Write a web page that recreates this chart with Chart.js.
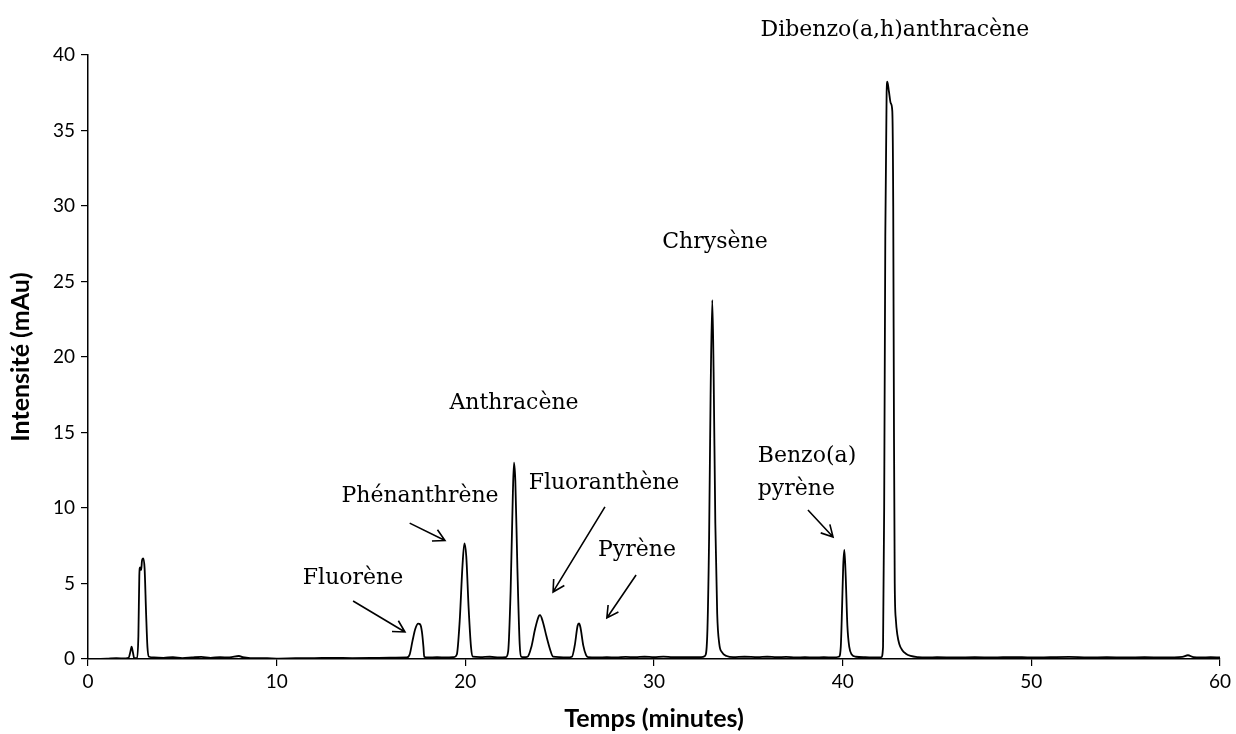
<!DOCTYPE html>
<html lang="fr">
<head>
<meta charset="utf-8">
<title>Chromatogramme HAP</title>
<script src="https://cdn.jsdelivr.net/npm/chart.js@4.4.1/dist/chart.umd.min.js"></script>
<style>
  html, body { margin: 0; padding: 0; background: #fff; }
  #wrap { width: 1236px; height: 734px; position: relative; }
</style>
</head>
<body>
<div id="wrap"><canvas id="c" width="1236" height="734"></canvas></div>
<script>
// Retention time (minutes) and detector signal (mAu) of the chromatogram
const temps = [
  0.5, 1.0, 1.5, 2.0, 2.15, 2.25, 2.31, 2.38, 2.45, 2.6,
  2.67, 2.72, 2.76, 2.82, 2.86, 2.93, 3.0, 3.08, 3.15, 3.23,
  3.5, 4.0, 4.5, 5.0, 5.5, 6.0, 6.5, 7.0, 7.5, 8.0,
  8.2, 8.6, 9.5, 10.0, 11.0, 12.0, 13.0, 14.0, 15.0, 16.0,
  16.9, 17.05, 17.2, 17.35, 17.5, 17.6, 17.7, 17.78, 17.82, 18.0,
  18.5, 19.0, 19.4, 19.55, 19.7, 19.85, 19.95, 20.05, 20.17, 20.3,
  20.4, 20.8, 21.3, 21.8, 22.15, 22.27, 22.4, 22.52, 22.58, 22.65,
  22.76, 22.88, 22.96, 23.1, 23.3, 23.5, 23.7, 23.9, 23.96, 24.1,
  24.3, 24.5, 24.65, 25.0, 25.4, 25.65, 25.8, 25.95, 26.02, 26.1,
  26.25, 26.4, 26.5, 27.0, 27.5, 28.0, 28.5, 29.0, 29.5, 30.0,
  30.5, 31.0, 31.5, 32.0, 32.5, 32.7, 32.82, 32.92, 33.0, 33.09,
  33.16, 33.25, 33.35, 33.46, 33.6, 33.85, 34.2, 34.8, 35.5, 36.0,
  36.5, 37.0, 37.5, 38.0, 38.5, 39.0, 39.5, 39.8, 39.9, 39.97,
  40.03, 40.09, 40.16, 40.25, 40.35, 40.48, 40.7, 41.2, 41.7, 42.05,
  42.14, 42.2, 42.26, 42.33, 42.37, 42.45, 42.55, 42.63, 42.68, 42.72,
  42.76, 42.82, 42.9, 43.0, 43.15, 43.35, 43.6, 44.0, 44.5, 45.0,
  46.0, 47.0, 48.0, 49.0, 50.0, 51.0, 52.0, 53.0, 54.0, 55.0,
  56.0, 57.0, 58.0, 58.3, 58.6, 59.0, 59.5, 60.0
];
const intensite = [
  0.0, 0.02, 0.05, 0.04, 0.08, 0.5, 0.81, 0.45, 0.05, 0.05,
  1.5, 5.5, 6.07, 5.9, 6.5, 6.67, 6.0, 3.0, 0.8, 0.15,
  0.1, 0.08, 0.12, 0.06, 0.1, 0.14, 0.08, 0.12, 0.1, 0.2,
  0.12, 0.06, 0.05, 0.03, 0.05, 0.06, 0.08, 0.06, 0.07, 0.09,
  0.1, 0.3, 1.2, 2.0, 2.34, 2.3, 1.8, 0.8, 0.15, 0.1,
  0.12, 0.1, 0.12, 0.3, 2.5, 6.2, 7.66, 6.8, 3.5, 0.8,
  0.15, 0.12, 0.15, 0.1, 0.12, 0.5, 4.5, 11.0, 13.0, 11.8,
  6.0, 1.0, 0.15, 0.12, 0.15, 0.8, 2.0, 2.85, 2.9, 2.5,
  1.5, 0.6, 0.15, 0.12, 0.1, 0.15, 0.9, 2.2, 2.35, 2.1,
  0.9, 0.25, 0.12, 0.1, 0.12, 0.1, 0.14, 0.12, 0.15, 0.12,
  0.16, 0.12, 0.13, 0.12, 0.12, 0.2, 1.5, 8.0, 17.5, 23.77,
  19.0, 9.0, 3.0, 1.0, 0.45, 0.2, 0.12, 0.15, 0.12, 0.15,
  0.12, 0.14, 0.1, 0.12, 0.1, 0.12, 0.1, 0.15, 0.8, 3.5,
  6.2, 7.22, 5.5, 2.2, 0.8, 0.3, 0.15, 0.12, 0.1, 0.12,
  0.8, 10.0, 28.0, 37.5, 38.24, 37.6, 36.8, 36.3, 30.0, 15.0,
  5.0, 2.6, 1.6, 1.0, 0.6, 0.35, 0.2, 0.12, 0.1, 0.12,
  0.1, 0.12, 0.1, 0.13, 0.1, 0.12, 0.14, 0.1, 0.12, 0.1,
  0.12, 0.1, 0.14, 0.25, 0.12, 0.1, 0.12, 0.1
];

// Compound names written on the chromatogram
const composes = [
  'Fluorène', 'Phénanthrène', 'Anthracène', 'Fluoranthène',
  'Pyrène', 'Chrysène', 'Benzo(a)\npyrène', 'Dibenzo(a,h)anthracène'
];

// Axis ranges and tick steps
const xBornes = [0, 60];
const yBornes = [0, 40];
const xPas = 10;
const yPas = 5;

// Label placement (data coordinates) and arrow from/to points
const placements = [
  { x: 14.05, y: 5.36, align: 'center', fleche: [14.05, 3.84, 16.8, 1.79] },
  { x: 17.6, y: 10.8, align: 'center', fleche: [17.05, 9.0, 18.92, 7.85] },
  { x: 22.58, y: 16.95, align: 'center', fleche: null },
  { x: 27.35, y: 11.66, align: 'center', fleche: [27.4, 10.07, 24.65, 4.44] },
  { x: 29.1, y: 7.22, align: 'center', fleche: [29.05, 5.56, 27.5, 2.72] },
  { x: 33.23, y: 27.6, align: 'center', fleche: null },
  { x: 35.5, y: 13.4, align: 'left', fleche: [38.16, 9.87, 39.49, 8.08] },
  { x: 42.77, y: 41.66, align: 'center', fleche: null }
];

const annotations = {
  id: 'annotations',
  afterDatasetsDraw(chart) {
    const { ctx, scales: { x, y } } = chart;
    ctx.save();
    ctx.fillStyle = '#000';
    ctx.strokeStyle = '#000';
    ctx.font = '22px "DejaVu Serif"';
    ctx.textBaseline = 'middle';
    composes.forEach((nom, i) => {
      const p = placements[i];
      ctx.textAlign = p.align;
      const lignes = nom.split('\n');
      const px = x.getPixelForValue(p.x);
      const py = y.getPixelForValue(p.y);
      lignes.forEach((l, k) => ctx.fillText(l, px, py + k * 33));
      if (p.fleche) {
        const [x0, y0, x1, y1] = p.fleche;
        const ax = x.getPixelForValue(x0), ay = y.getPixelForValue(y0);
        const bx = x.getPixelForValue(x1), by = y.getPixelForValue(y1);
        ctx.lineWidth = 1.6;
        ctx.beginPath();
        ctx.moveTo(ax, ay);
        ctx.lineTo(bx, by);
        const ang = Math.atan2(by - ay, bx - ax);
        const h = 13, a = 0.5;
        ctx.moveTo(bx - h * Math.cos(ang - a), by - h * Math.sin(ang - a));
        ctx.lineTo(bx, by);
        ctx.lineTo(bx - h * Math.cos(ang + a), by - h * Math.sin(ang + a));
        ctx.stroke();
      }
    });
    ctx.restore();
  }
};

const points = temps.map((t, i) => ({ x: t, y: intensite[i] }));

new Chart(document.getElementById('c'), {
  type: 'scatter',
  data: {
    datasets: [{
      data: points,
      showLine: true,
      borderColor: '#000',
      borderWidth: 1.8,
      pointRadius: 0,
      cubicInterpolationMode: 'monotone',
      fill: false
    }]
  },
  options: {
    responsive: false,
    animation: false,
    events: [],
    layout: { padding: { left: 0, right: 16, top: 55, bottom: 0 } },
    plugins: { legend: { display: false }, tooltip: { enabled: false } },
    scales: {
      x: {
        type: 'linear',
        min: xBornes[0], max: xBornes[1],
        afterFit(s) { s.height = 75; },
        border: { display: true, color: '#000', width: 1.5 },
        grid: { display: true, drawOnChartArea: false, drawTicks: true, tickLength: 7, color: '#000', lineWidth: 1.2 },
        ticks: { stepSize: xPas, color: '#000', padding: 4, font: { family: 'Lato', size: 19 }, maxRotation: 0 },
        title: { display: true, text: 'Temps (minutes)', color: '#000', font: { family: 'Lato', size: 25, weight: 'bold' }, padding: { top: 0, bottom: 0 } }
      },
      y: {
        type: 'linear',
        min: yBornes[0], max: yBornes[1],
        afterFit(s) { s.width = 88; },
        border: { display: true, color: '#000', width: 1.5 },
        grid: { display: true, drawOnChartArea: false, drawTicks: true, tickLength: 7, color: '#000', lineWidth: 1.2 },
        ticks: { stepSize: yPas, color: '#000', padding: 6, font: { family: 'Lato', size: 19 } },
        title: { display: true, text: 'Intensité (mAu)', color: '#000', font: { family: 'Lato', size: 25, weight: 'bold' }, padding: { top: 6, bottom: 0 } }
      }
    }
  },
  plugins: [annotations]
});
</script>
</body>
</html>
